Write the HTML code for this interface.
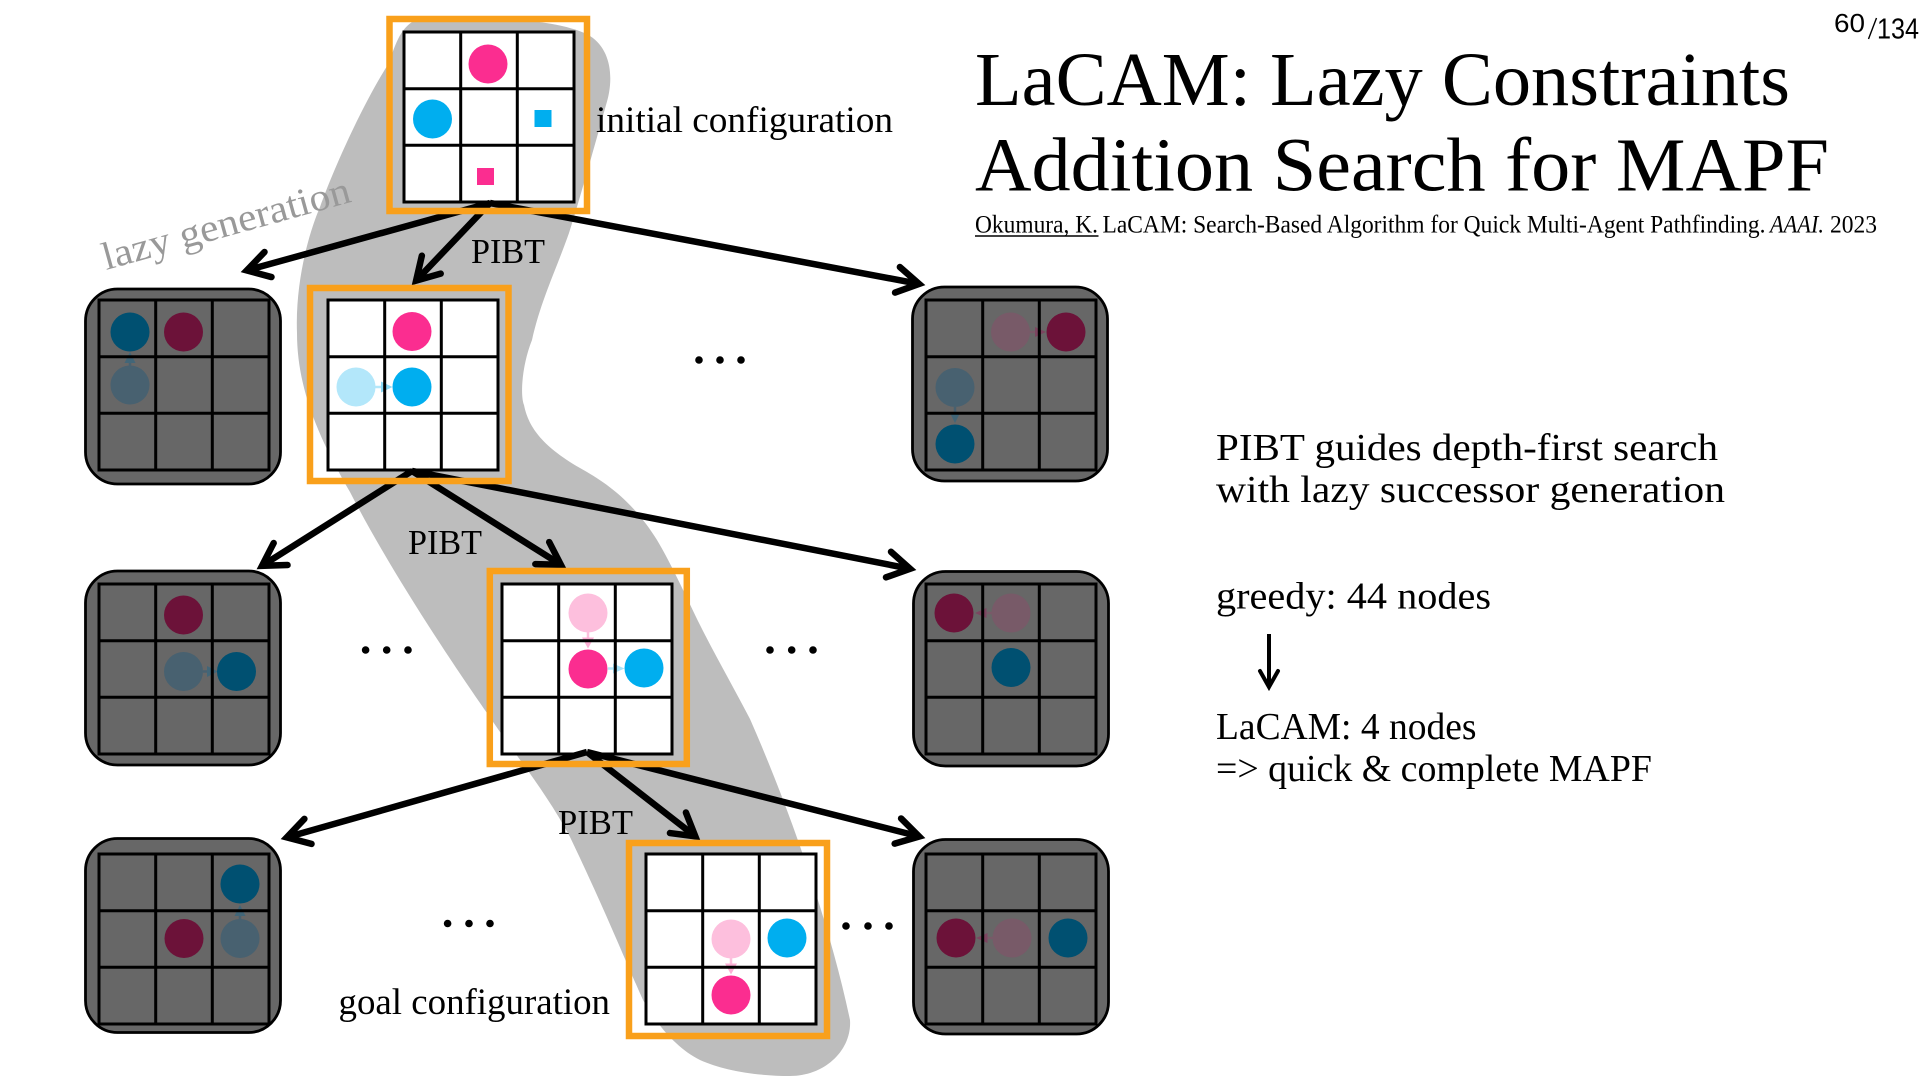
<!DOCTYPE html>
<html>
<head>
<meta charset="utf-8">
<title>LaCAM</title>
<style>
html,body{margin:0;padding:0;background:#fff;width:1920px;height:1080px;overflow:hidden}
svg{display:block}
text{font-family:"Liberation Serif",serif;fill:#000}
</style>
</head>
<body>
<svg width="1920" height="1080" viewBox="0 0 1920 1080" xmlns="http://www.w3.org/2000/svg">
<defs>
<g id="grid" stroke="#000" stroke-width="3">
<rect x="0" y="0" width="170" height="170"/>
<path d="M56.7 0V170M113.3 0V170M0 56.7H170M0 113.3H170" fill="none"/>
</g>
<marker id="ah" markerUnits="userSpaceOnUse" markerWidth="60" markerHeight="60" refX="30" refY="30" orient="auto" overflow="visible">
<path d="M8 17 L30 30 L8 43" fill="none" stroke="#000" stroke-width="6.5" stroke-linecap="round" stroke-linejoin="miter" stroke-miterlimit="8"/>
</marker>
</defs>

<!-- gray band -->
<path fill="#bdbdbd" d="M412 22 C470 14,560 18,590 36 C612 50,614 80,606 105 C592 155,578 205,569 233 C556 270,541 300,532 340 C522 365,520 395,524 405 C528 425,540 445,580 468 C605 482,632 500,657 540 C672 565,690 605,700 625 C715 655,735 690,750 719 C790 810,830 925,850 1020 C852 1050,825 1076,790 1076 C755 1076,722 1070,700 1060 C680 1050,660 1030,643 1000 C625 960,605 910,570 837 C545 790,515 755,487 713 C450 660,390 570,350 492 C320 440,297 390,297 333 C295 280,310 230,320 207 C335 165,365 100,389 63 C395 45,400 30,412 22 Z"/>

<!-- dark cards -->
<g fill="#676767" stroke="#000" stroke-width="2.8">
<rect x="85.5" y="289" width="195" height="195" rx="32"/>
<rect x="85.5" y="571" width="195" height="194" rx="32"/>
<rect x="85.5" y="838.5" width="195" height="194" rx="32"/>
<rect x="912.5" y="287" width="195" height="194" rx="32"/>
<rect x="913.5" y="571.5" width="195" height="194.5" rx="32"/>
<rect x="913.5" y="839.5" width="195" height="194.5" rx="32"/>
</g>

<!-- white grid backgrounds -->
<g fill="#fff">
<rect x="404" y="32" width="170" height="170"/>
<rect x="328" y="300" width="170" height="170"/>
<rect x="502" y="584" width="170" height="170"/>
<rect x="646" y="854" width="170" height="170"/>
</g>

<!-- box 1 agents -->
<circle cx="488" cy="64" r="19.5" fill="#fb2d90"/>
<circle cx="432.5" cy="119" r="19.5" fill="#00aeef"/>
<rect x="534.5" y="110" width="17" height="17" fill="#00aeef"/>
<rect x="477" y="168" width="17" height="17" fill="#fb2d90"/>

<!-- box 2 agents -->
<circle cx="412" cy="331.5" r="19.5" fill="#fb2d90"/>
<circle cx="356" cy="387" r="19.5" fill="#b3e7fa"/>
<path d="M375 387H381" stroke="#b3e7fa" stroke-width="2.5"/>
<path d="M381 381.5V392.5L392.5 387Z" fill="#8cdaf6"/>
<circle cx="412" cy="387" r="19.5" fill="#00aeef"/>

<!-- box 3 agents -->
<circle cx="588" cy="613" r="19.5" fill="#fdbfdd"/>
<path d="M588 632V638" stroke="#fdbfdd" stroke-width="2.5"/>
<path d="M582 637.5H594L588 648.5Z" fill="#fcb0d5"/>
<circle cx="588" cy="669" r="19.5" fill="#fb2d90"/>
<path d="M608 668.5H613" stroke="#b3e7fa" stroke-width="2.5"/>
<path d="M613 663.5V673.5L624.5 668.5Z" fill="#a6e3f9"/>
<circle cx="644" cy="668" r="19.5" fill="#00aeef"/>

<!-- box 4 agents -->
<circle cx="731" cy="939" r="19.5" fill="#fdbfdd"/>
<path d="M731 958V964" stroke="#fdbfdd" stroke-width="2.5"/>
<path d="M725 963.5H737L731 974.5Z" fill="#fcb0d5"/>
<circle cx="787" cy="938" r="19.5" fill="#00aeef"/>
<circle cx="731" cy="995" r="19.5" fill="#fb2d90"/>

<!-- dark card agents -->
<!-- L1 -->
<circle cx="130" cy="332" r="19.5" fill="#005071"/>
<circle cx="183.5" cy="332" r="19.5" fill="#6c1239"/>
<circle cx="130" cy="385" r="19.5" fill="#486170"/>
<path d="M130 367V362" stroke="#486170" stroke-width="2.5"/>
<path d="M124.5 363H135.500L130 352Z" fill="#426678"/>
<!-- L2 -->
<circle cx="183.5" cy="615" r="19.5" fill="#6c1239"/>
<circle cx="183.5" cy="671.500" r="19.5" fill="#486170"/>
<path d="M203 671.500H208" stroke="#486170" stroke-width="2.5"/>
<path d="M207 666V677L218 671.500Z" fill="#426678"/>
<circle cx="236.5" cy="671.500" r="19.5" fill="#005071"/>
<!-- L3 -->
<circle cx="240" cy="884" r="19.5" fill="#005071"/>
<circle cx="184" cy="938.500" r="19.5" fill="#6c1239"/>
<circle cx="240" cy="938.500" r="19.5" fill="#486170"/>
<path d="M240 920V915" stroke="#486170" stroke-width="2.5"/>
<path d="M234.500 916H245.500L240 905Z" fill="#426678"/>
<!-- R1 -->
<circle cx="1010.5" cy="332" r="19.5" fill="#785a68"/>
<path d="M1030 332H1036" stroke="#785a68" stroke-width="2.5"/>
<path d="M1035 327V337L1046 332Z" fill="#7c4560"/>
<circle cx="1066" cy="332" r="19.5" fill="#6c1239"/>
<circle cx="955" cy="387.500" r="19.5" fill="#486170"/>
<path d="M955 407V413" stroke="#486170" stroke-width="2.5"/>
<path d="M949.500 412H960.500L955 423Z" fill="#426678"/>
<circle cx="955" cy="444" r="19.5" fill="#005071"/>
<!-- R2 -->
<circle cx="954" cy="613" r="19.5" fill="#6c1239"/>
<circle cx="1011" cy="613" r="19.5" fill="#785a68"/>
<path d="M992 613H986" stroke="#785a68" stroke-width="2.5"/>
<path d="M986.500 608V618L975 613Z" fill="#7c4560"/>
<circle cx="1011" cy="667.500" r="19.5" fill="#005071"/>
<!-- R3 -->
<circle cx="956" cy="938" r="19.5" fill="#6c1239"/>
<circle cx="1012" cy="938" r="19.5" fill="#785a68"/>
<path d="M993 938H987" stroke="#785a68" stroke-width="2.5"/>
<path d="M987.500 933V943L976 938Z" fill="#7c4560"/>
<circle cx="1068" cy="938" r="19.5" fill="#005071"/>

<!-- grid lines on top of agents and connectors -->
<g fill="none">
<use href="#grid" x="99" y="300"/>
<use href="#grid" x="99" y="584"/>
<use href="#grid" x="99" y="854"/>
<use href="#grid" x="926" y="300"/>
<use href="#grid" x="926" y="584"/>
<use href="#grid" x="926" y="854"/>
<use href="#grid" x="404" y="32"/>
<use href="#grid" x="328" y="300"/>
<use href="#grid" x="502" y="584"/>
<use href="#grid" x="646" y="854"/>
</g>

<!-- arrows -->
<g stroke="#000" stroke-width="6.5" fill="none">
<line x1="490" y1="203" x2="246.800" y2="270.400" marker-end="url(#ah)"/>
<line x1="490" y1="203" x2="416.100" y2="280.600" marker-end="url(#ah)"/>
<line x1="490" y1="203" x2="919.100" y2="283.900" marker-end="url(#ah)"/>
<line x1="412" y1="471" x2="262" y2="565.800" marker-end="url(#ah)"/>
<line x1="412" y1="471" x2="560.900" y2="564.800" marker-end="url(#ah)"/>
<line x1="412" y1="471" x2="910.100" y2="568.800" marker-end="url(#ah)"/>
<line x1="587" y1="752" x2="286.800" y2="837.400" marker-end="url(#ah)"/>
<line x1="587" y1="752" x2="695.300" y2="836.300" marker-end="url(#ah)"/>
<line x1="587" y1="752" x2="919.200" y2="836.500" marker-end="url(#ah)"/>
</g>

<!-- orange boxes -->
<g fill="none" stroke="#f9a01b" stroke-width="6.5">
<rect x="389.500" y="19" width="197.500" height="192"/>
<rect x="310" y="288" width="198.500" height="193"/>
<rect x="489.800" y="571" width="197" height="193"/>
<rect x="629" y="843" width="198" height="193"/>
</g>

<!-- dots -->
<g fill="#000">
<circle cx="699" cy="360" r="3.800"/><circle cx="720" cy="360" r="3.800"/><circle cx="741" cy="360" r="3.800"/>
<circle cx="770" cy="650" r="3.800"/><circle cx="791.700" cy="650" r="3.800"/><circle cx="813" cy="650" r="3.800"/>
<circle cx="365.600" cy="650" r="3.800"/><circle cx="386.700" cy="650" r="3.800"/><circle cx="408" cy="650" r="3.800"/>
<circle cx="447.600" cy="923.500" r="3.800"/><circle cx="469" cy="923.500" r="3.800"/><circle cx="490" cy="923.500" r="3.800"/>
<circle cx="846" cy="926" r="3.800"/><circle cx="868" cy="926" r="3.800"/><circle cx="889" cy="926" r="3.800"/>
</g>

<!-- diagram labels -->
<text x="596" y="132" font-size="37" textLength="297" lengthAdjust="spacingAndGlyphs">initial configuration</text>
<text x="471" y="263" font-size="35" textLength="74" lengthAdjust="spacingAndGlyphs">PIBT</text>
<text x="408" y="554" font-size="35" textLength="74" lengthAdjust="spacingAndGlyphs">PIBT</text>
<text x="558" y="834" font-size="35" textLength="75" lengthAdjust="spacingAndGlyphs">PIBT</text>
<text x="338.500" y="1014" font-size="37" textLength="271.500" lengthAdjust="spacingAndGlyphs">goal configuration</text>
<text transform="translate(106 270) rotate(-15.500)" font-size="39" textLength="256" lengthAdjust="spacingAndGlyphs" style="fill:#999999">lazy generation</text>

<!-- title -->
<text x="975" y="105" font-size="76" textLength="815" lengthAdjust="spacingAndGlyphs">LaCAM: Lazy Constraints</text>
<text x="975" y="190.500" font-size="76" textLength="854" lengthAdjust="spacingAndGlyphs">Addition Search for MAPF</text>

<!-- citation -->
<text x="975" y="232.500" font-size="25" textLength="123" lengthAdjust="spacingAndGlyphs">Okumura, K.</text>
<line x1="975" y1="236" x2="1098.500" y2="236" stroke="#000" stroke-width="1.5"/>
<text x="1102.500" y="232.500" font-size="25" textLength="663" lengthAdjust="spacingAndGlyphs">LaCAM: Search-Based Algorithm for Quick Multi-Agent Pathfinding.</text>
<text x="1770" y="232.500" font-size="25" font-style="italic" textLength="54" lengthAdjust="spacingAndGlyphs">AAAI.</text>
<text x="1830" y="232.500" font-size="25" textLength="47" lengthAdjust="spacingAndGlyphs">2023</text>

<!-- page number -->
<text x="1834" y="32" font-size="26" textLength="31" lengthAdjust="spacingAndGlyphs" style="font-family:'Liberation Sans',sans-serif">60</text>
<line x1="1868.500" y1="39" x2="1876.500" y2="18" stroke="#000" stroke-width="1.4"/>
<text x="1877" y="38.300" font-size="29" textLength="42" lengthAdjust="spacingAndGlyphs" style="font-family:'Liberation Sans',sans-serif">134</text>

<!-- right side text -->
<text x="1216" y="460" font-size="38" textLength="502" lengthAdjust="spacingAndGlyphs">PIBT guides depth-first search</text>
<text x="1216" y="502" font-size="38" textLength="509" lengthAdjust="spacingAndGlyphs">with lazy successor generation</text>
<text x="1216" y="608.500" font-size="38" textLength="275" lengthAdjust="spacingAndGlyphs">greedy: 44 nodes</text>
<text x="1216" y="739" font-size="38" textLength="260.500" lengthAdjust="spacingAndGlyphs">LaCAM: 4 nodes</text>
<text x="1216" y="781" font-size="38" textLength="436" lengthAdjust="spacingAndGlyphs">=&gt; quick &amp; complete MAPF</text>

<!-- small arrow -->
<path d="M1269 634V684" stroke="#000" stroke-width="4" fill="none"/>
<path d="M1260 671 L1269 687 L1278 671" stroke="#000" stroke-width="4" fill="none" stroke-linecap="round" stroke-miterlimit="8"/>
</svg>
</body>
</html>
